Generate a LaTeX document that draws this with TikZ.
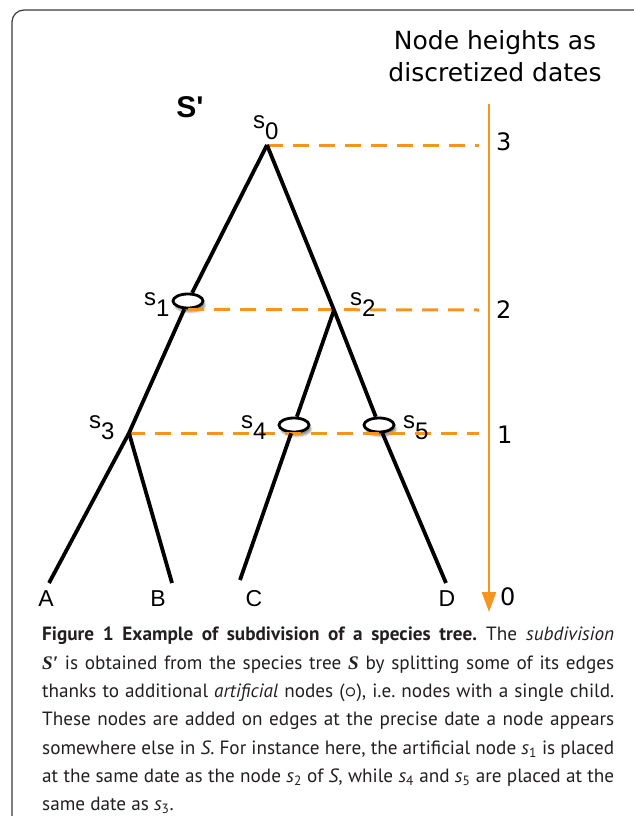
\documentclass[tikz,border=0pt]{standalone}
\usepackage{fontspec}
\usepackage{amsmath}
\setmainfont{PT Sans}
\newfontfamily\labelfont{Liberation Sans}
\newfontfamily\datefont{DejaVu Sans}
\newfontfamily\capserif{Liberation Serif}
\usetikzlibrary{arrows.meta, shapes.geometric, shadows.blur}
\definecolor{DateOrange}{HTML}{F7941D}
\definecolor{CapGrey}{HTML}{231F20}
\definecolor{FrameGrey}{HTML}{3A3A3A}
\newcommand{\sname}[1]{s\raisebox{-11pt}{#1}}

\tikzset{
  edge/.style={line width=3.8pt, black},
  dateline/.style={DateOrange, line width=3pt, dash pattern=on 16pt off 10pt},
  datearrow/.style={DateOrange, line width=2.6pt, -{Triangle[width=14pt, length=20pt]}},
  artnode/.style={ellipse, draw, line width=2.8pt, fill=white, inner sep=0pt,
    minimum width=30pt, minimum height=14pt,
    blur shadow={shadow blur steps=6, shadow xshift=2pt, shadow yshift=-4pt, shadow opacity=45}},
  slabel/.style={font=\labelfont\fontsize{24}{24}\selectfont, inner sep=0pt, anchor=base west},
  leaflabel/.style={font=\labelfont\fontsize{23}{23}\selectfont, inner sep=0pt, anchor=base},
  datelabel/.style={font=\datefont\fontsize{24}{24}\selectfont, inner sep=0pt, anchor=base west},
}

\begin{document}
\begin{tikzpicture}[x=1pt, y=-1pt, >=Stealth]
  \useasboundingbox (0,0) rectangle (634,816);
  % Frame
  \draw[FrameGrey, line width=1.2pt, rounded corners=12pt] (12,816) -- (12,10) -- (634,10);

  % Tree nodes
  \coordinate (s0) at (267,145);
  \coordinate (s2) at (334,310);
  \coordinate (s3) at (129,433);
  \node[artnode] (s1) at (188,301) {};
  \node[artnode] (s4) at (294,425) {};
  \node[artnode] (s5) at (379,425) {};
  % Leaves
  \coordinate (lA) at (49,583);
  \coordinate (lB) at (172,583);
  \coordinate (lC) at (240,580);
  \coordinate (lD) at (446,583);

  % Date levels
  \coordinate (h3) at (479,145);
  \coordinate (h2) at (479,310);
  \coordinate (h1) at (479,433);
  \draw[dateline] (s0) -- (h3);
  \draw[dateline] (s1.south -| s1) -- (h2);
  \draw[dateline] (s3) -- (h1);

  % Date axis
  \coordinate (atop) at (489,104);
  \coordinate (abot) at (489,612);
  \draw[datearrow] (atop) -- (abot);

  % Edges
  \draw[edge] (s0) -- (s1) -- (s3) -- (lA);
  \draw[edge] (s3) -- (lB);
  \draw[edge] (s0) -- (s2) -- (s5) -- (lD);
  \draw[edge] (s2) -- (s4) -- (lC);

  % Node labels
  \node[font=\labelfont\bfseries\fontsize{30}{30}\selectfont] (sprime) at (190,107) {S'};
  \node[slabel] (n0) at (253,128) {\sname{0}};
  \node[slabel] (n1) at (144,305) {\sname{1}};
  \node[slabel] (n2) at (350,305) {\sname{2}};
  \node[slabel] (n3) at (89,428) {\sname{3}};
  \node[slabel] (n4) at (241,428) {\sname{4}};
  \node[slabel] (n5) at (403,428) {\sname{5}};
  \node[leaflabel] (tA) at (46,606) {A};
  \node[leaflabel] (tB) at (158,606) {B};
  \node[leaflabel] (tC) at (254,606) {C};
  \node[leaflabel] (tD) at (447,606) {D};

  % Date labels
  \node[datelabel] (d3) at (496,150) {3};
  \node[datelabel] (d2) at (496,318) {2};
  \node[datelabel] (d1) at (497,443) {1};
  \node[datelabel] (d0) at (500,605) {0};
  \node[font=\datefont\fontsize{25}{32}\selectfont, align=center, inner sep=0pt] (title) at (495,56)
    {Node heights as\\discretized dates};

  % Caption
  \node[anchor=north west, text width=572pt, align=justify, inner sep=0pt, text=CapGrey,
    font=\fontsize{19.2}{28.3}\selectfont] (caption) at (42,627)
    {\frenchspacing{\bfseries Figure 1 Example of subdivision of a species tree.} The \textit{subdivision}\linebreak
     {\capserif\bfseries\itshape S′} is obtained from the species tree {\capserif\bfseries\itshape S} by splitting some of its edges\linebreak
     thanks to additional \textit{artificial} nodes ($\boldsymbol{\circ}$), i.e. nodes with a single child.\linebreak
     These nodes are added on edges at the precise date a node appears\linebreak
     somewhere else in \textit{S}. For instance here, the artificial node \textit{s}\textsubscript{1} is placed\linebreak
     at the same date as the node \textit{s}\textsubscript{2} of \textit{S}, while \textit{s}\textsubscript{4} and \textit{s}\textsubscript{5} are placed at the\linebreak
     same date as \textit{s}\textsubscript{3}.};
\end{tikzpicture}
\end{document}
